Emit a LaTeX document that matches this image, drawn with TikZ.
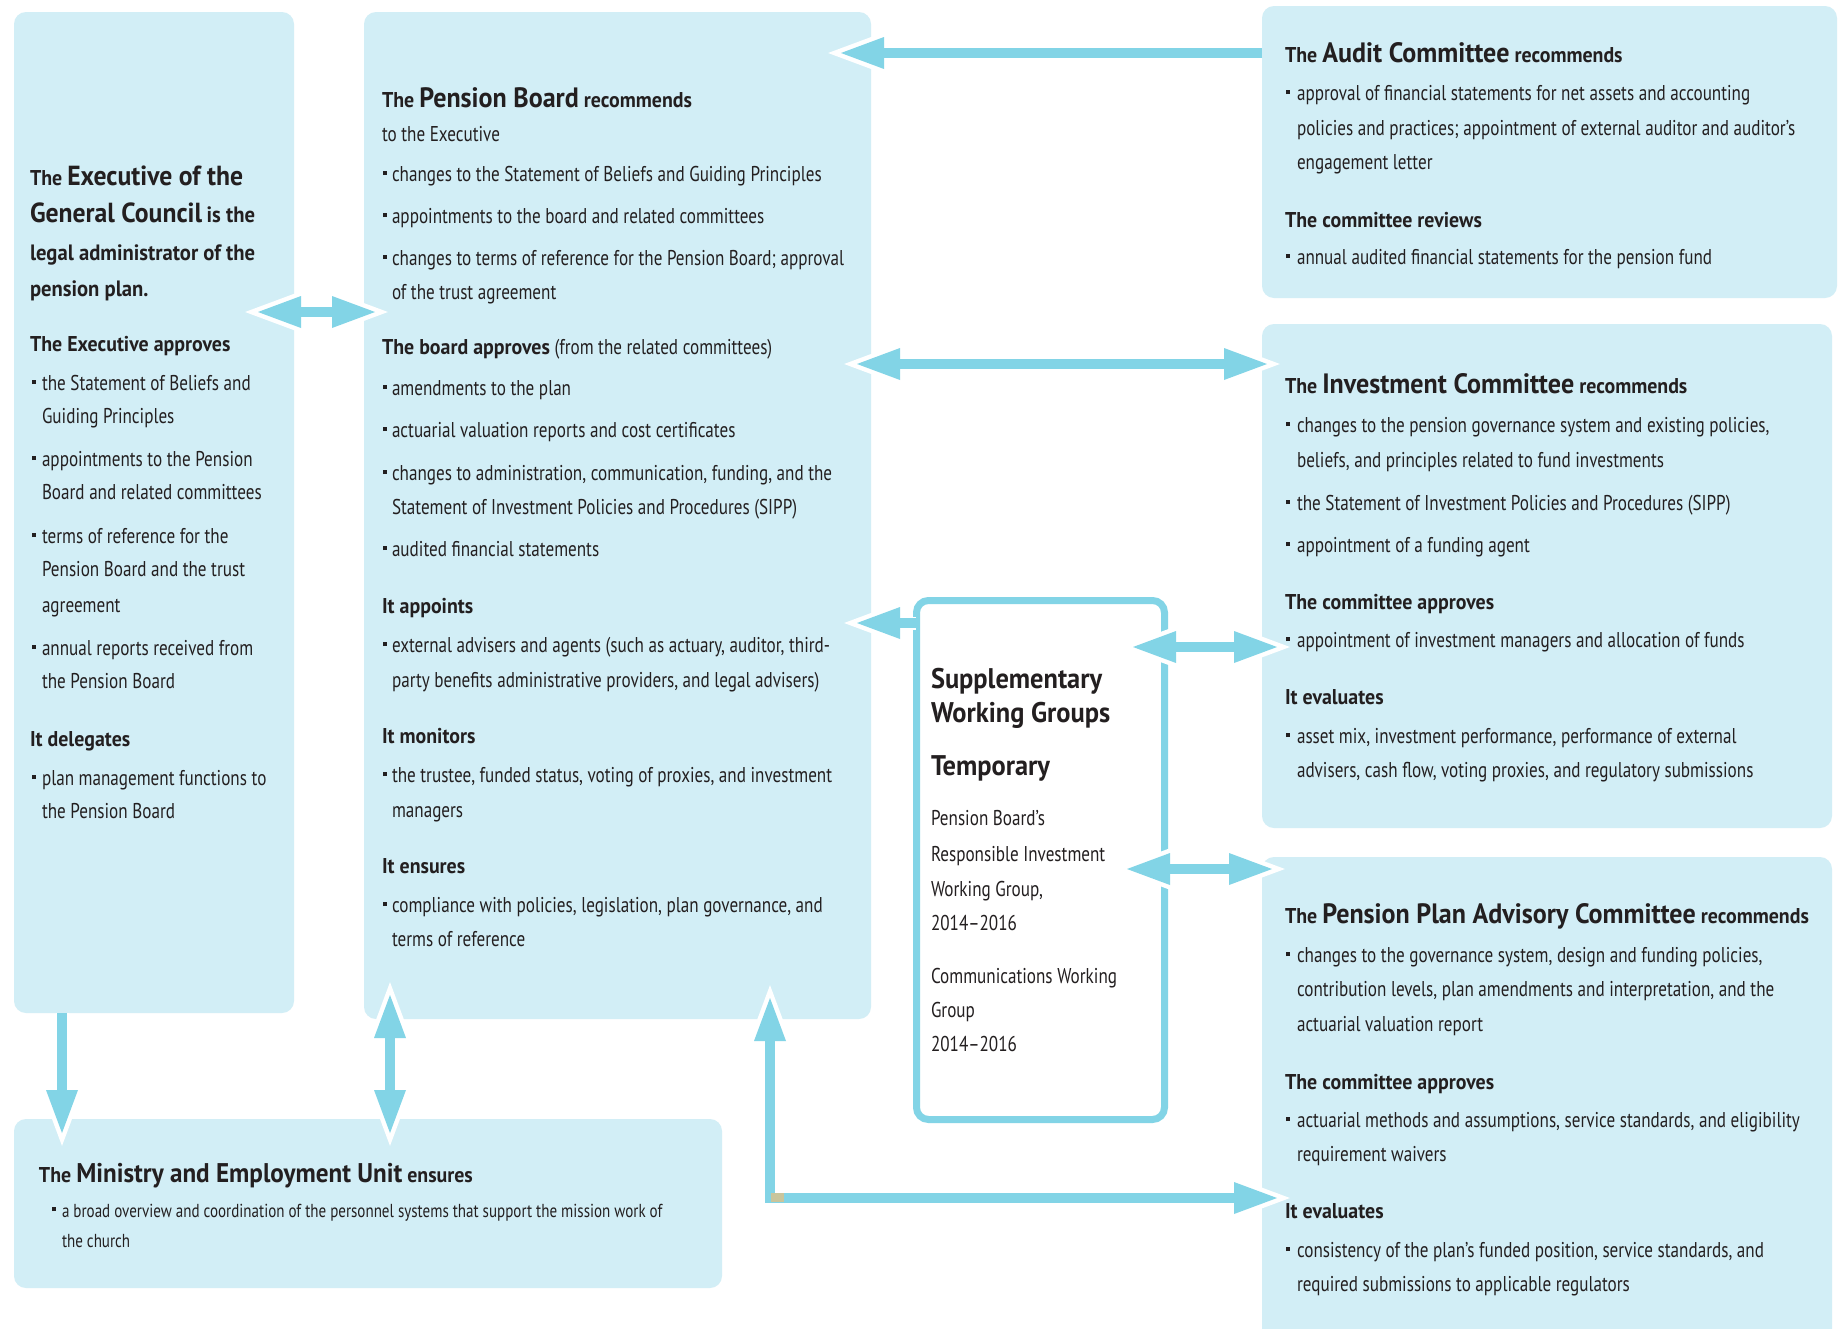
\documentclass[tikz,border=0pt]{standalone}
\usepackage{fontspec}
\setmainfont{PT Sans}[FakeStretch=0.80, BoldFeatures={FakeStretch=0.93}]
\usetikzlibrary{calc}
\definecolor{boxc}{HTML}{D2EEF6}
\definecolor{arrc}{HTML}{82D4E6}
\definecolor{ink}{HTML}{231F20}
\definecolor{tan}{HTML}{C9C59C}
\newcommand\bfsz{\fontsize{10.7}{13}\selectfont}
\newcommand\hd{\fontsize{14}{16}\selectfont\bfseries}
\newcommand\hdm{\fontsize{13.5}{16}\selectfont\bfseries}
\newcommand\hg{\fontsize{14.2}{17}\selectfont\bfseries}
\newcommand\hge{\fontsize{13.8}{17}\selectfont\bfseries}
\newcommand\hm{\fontsize{11.1}{14}\selectfont\bfseries}
\newcommand\bsq{\rule[0.27em]{0.2em}{0.2em}}
\newcounter{tn}
\newcommand\tx[3]{\stepcounter{tn}\node[txt] (t\arabic{tn}) at (#1,#2) {#3};}
\newcommand\bu[4]{\stepcounter{tn}\node[txt] (b\arabic{tn}) at (#1,#3) {\bsq};\tx{#2}{#3}{#4}}
\newcommand\headW[2]{\draw[white, line width=4.5pt, line join=miter, miter limit=20, shift={(#1)}, rotate=#2] (0,0) -- (-43,16) -- (-43,-16) -- cycle;}
\newcommand\headB[2]{\fill[arrc, shift={(#1)}, rotate=#2] (0,0) -- (-43,16) -- (-43,-16) -- cycle;}
\begin{document}
\begin{tikzpicture}[x=0.5pt,y=-0.5pt,
  box/.style={fill=boxc, draw=none, rounded corners=6pt, anchor=north west, inner sep=0pt, outer sep=0pt},
  txt/.style={anchor=mid west, inner sep=0pt, outer sep=0pt, text=ink, font=\bfsz},
  shaft/.style={draw=white, line width=0.75pt, double=arrc, double distance=5pt, line join=miter}]
\useasboundingbox (0,0) rectangle (1841,1328);
\fill[white] (0,0) rectangle (1841,1328);
% boxes
\node[box, minimum width=140pt, minimum height=500.5pt] (exec) at (14,12) {};
\node[box, minimum width=253.5pt, minimum height=503.5pt] (pb) at (364,12) {};
\node[box, minimum width=287.5pt, minimum height=146pt] (audit) at (1262,6) {};
\node[box, minimum width=285pt, minimum height=252pt] (inv) at (1262,324) {};
\node[box, minimum width=285pt, minimum height=245pt] (ppac) at (1262,857) {};
\node[box, minimum width=354pt, minimum height=84.5pt] (min) at (14,1119) {};
\node[draw=arrc, line width=3.5pt, fill=white, rounded corners=6pt, anchor=north west, inner sep=0pt, outer sep=0pt, minimum width=124pt, minimum height=259.5pt] (supp) at (916.5,600.5) {};
% arrow coordinates
\coordinate (a1s) at (1262,53);  \coordinate (a1t) at (841,53);
\coordinate (a2l) at (258,312);  \coordinate (a2r) at (375,312);
\coordinate (a3l) at (857,364);  \coordinate (a3r) at (1267,364);
\coordinate (a4s) at (916,623);  \coordinate (a4t) at (857,623);
\coordinate (a5l) at (1133,647); \coordinate (a5r) at (1277,647);
\coordinate (a6l) at (1127,869); \coordinate (a6r) at (1272,869);
\coordinate (a7s) at (62,1013);  \coordinate (a7t) at (62,1133);
\coordinate (a8t) at (390,995);  \coordinate (a8b) at (390,1133);
\coordinate (a9t) at (770,998);  \coordinate (a9c) at (770,1198); \coordinate (a9r) at (1277,1198);
% white outlines of heads
\headW{a1t}{180}
\headW{a2l}{180}\headW{a2r}{0}
\headW{a3l}{180}\headW{a3r}{0}
\headW{a4t}{180}
\headW{a5l}{180}\headW{a5r}{0}
\headW{a6l}{180}\headW{a6r}{0}
\headW{a7t}{-90}
\headW{a8t}{90}\headW{a8b}{-90}
\headW{a9t}{90}\headW{a9r}{0}
% shafts
\draw[shaft] (a1s) -- ($(a1t)+(38,0)$);
\draw[shaft] ($(a2l)+(38,0)$) -- ($(a2r)+(-38,0)$);
\draw[shaft] ($(a3l)+(38,0)$) -- ($(a3r)+(-38,0)$);
\draw[shaft] (a4s) -- ($(a4t)+(38,0)$);
\draw[shaft] ($(a5l)+(38,0)$) -- ($(a5r)+(-38,0)$);
\draw[shaft] ($(a6l)+(38,0)$) -- ($(a6r)+(-38,0)$);
\draw[shaft] (a7s) -- ($(a7t)+(0,-38)$);
\draw[shaft] ($(a8t)+(0,38)$) -- ($(a8b)+(0,-38)$);
\draw[shaft] ($(a9t)+(0,38)$) -- (a9c) -- ($(a9r)+(-38,0)$);
% heads
\headB{a1t}{180}
\headB{a2l}{180}\headB{a2r}{0}
\headB{a3l}{180}\headB{a3r}{0}
\headB{a4t}{180}
\headB{a5l}{180}\headB{a5r}{0}
\headB{a6l}{180}\headB{a6r}{0}
\headB{a7t}{-90}
\headB{a8t}{90}\headB{a8b}{-90}
\headB{a9t}{90}\headB{a9r}{0}
\fill[tan] (771,1193) rectangle (784,1202);
% Executive text
\tx{30}{180}{\bfseries The {\hge Executive of the}}
\tx{30}{217}{{\hge General Council} {\hm is the}}
\tx{30}{255}{\hm legal administrator of the}
\tx{30}{291}{\hm pension plan.}
\tx{30}{346}{\bfseries The Executive approves}
\bu{32}{42}{385}{the Statement of Beliefs and}
\tx{42}{418}{Guiding Principles}
\bu{32}{42}{461}{appointments to the Pension}
\tx{42}{494}{Board and related committees}
\bu{32}{42}{538}{terms of reference for the}
\tx{42}{571}{Pension Board and the trust}
\tx{42}{607}{agreement}
\bu{32}{42}{650}{annual reports received from}
\tx{42}{683}{the Pension Board}
\tx{30}{741}{\bfseries It delegates}
\bu{32}{42}{780}{plan management functions to}
\tx{42}{813}{the Pension Board}
% Pension Board text
\tx{382}{102}{\bfseries The {\hd Pension Board} recommends}
\tx{382}{136}{to the Executive}
\bu{383}{392}{176}{changes to the Statement of Beliefs and Guiding Principles}
\bu{383}{392}{218}{appointments to the board and related committees}
\bu{383}{392}{260}{changes to terms of reference for the Pension Board; approval}
\tx{392}{294}{of the trust agreement}
\tx{382}{349}{{\bfseries The board approves} (from the related committees)}
\bu{383}{392}{390}{amendments to the plan}
\bu{383}{392}{432}{actuarial valuation reports and cost certificates}
\bu{383}{392}{475}{changes to administration, communication, funding, and the}
\tx{392}{509}{Statement of Investment Policies and Procedures (SIPP)}
\bu{383}{392}{551}{audited financial statements}
\tx{382}{608}{\bfseries It appoints}
\bu{383}{392}{647}{external advisers and agents (such as actuary, auditor, third-}
\tx{392}{682}{party benefits administrative providers, and legal advisers)}
\tx{382}{738}{\bfseries It monitors}
\bu{383}{392}{777}{the trustee, funded status, voting of proxies, and investment}
\tx{392}{812}{managers}
\tx{382}{868}{\bfseries It ensures}
\bu{383}{392}{907}{compliance with policies, legislation, plan governance, and}
\tx{392}{941}{terms of reference}
% Audit text
\tx{1285}{57}{\bfseries The {\hd Audit Committee} recommends}
\bu{1286}{1297}{95}{approval of financial statements for net assets and accounting}
\tx{1297}{130}{policies and practices; appointment of external auditor and auditor’s}
\tx{1297}{164}{engagement letter}
\tx{1285}{222}{\bfseries The committee reviews}
\bu{1286}{1297}{259}{annual audited financial statements for the pension fund}
% Investment text
\tx{1285}{388}{\bfseries The {\hd Investment Committee} recommends}
\bu{1286}{1297}{427}{changes to the pension governance system and existing policies,}
\tx{1297}{462}{beliefs, and principles related to fund investments}
\bu{1286}{1297}{505}{the Statement of Investment Policies and Procedures (SIPP)}
\bu{1286}{1297}{547}{appointment of a funding agent}
\tx{1285}{604}{\bfseries The committee approves}
\bu{1286}{1297}{642}{appointment of investment managers and allocation of funds}
\tx{1285}{699}{\bfseries It evaluates}
\bu{1286}{1297}{738}{asset mix, investment performance, performance of external}
\tx{1297}{772}{advisers, cash flow, voting proxies, and regulatory submissions}
% PPAC text
\tx{1285}{918}{\bfseries The {\hd Pension Plan Advisory Committee} recommends}
\bu{1286}{1297}{957}{changes to the governance system, design and funding policies,}
\tx{1297}{991}{contribution levels, plan amendments and interpretation, and the}
\tx{1297}{1026}{actuarial valuation report}
\tx{1285}{1084}{\bfseries The committee approves}
\bu{1286}{1297}{1122}{actuarial methods and assumptions, service standards, and eligibility}
\tx{1297}{1156}{requirement waivers}
\tx{1285}{1213}{\bfseries It evaluates}
\bu{1286}{1297}{1252}{consistency of the plan’s funded position, service standards, and}
\tx{1297}{1286}{required submissions to applicable regulators}
% Ministry text
\tx{39}{1177}{\bfseries The {\hdm Ministry and Employment Unit} ensures}
\bu{52}{62}{1212}{\fontsize{9.4}{11}\selectfont a broad overview and coordination of the personnel systems that support the mission work of}
\tx{62}{1242}{\fontsize{9.4}{11}\selectfont the church}
% Supplementary text
\tx{931}{683}{\hg Supplementary}
\tx{931}{717}{\hg Working Groups}
\tx{931}{770}{\hg Temporary}
\tx{931}{820}{Pension Board’s}
\tx{931}{856}{Responsible Investment}
\tx{931}{891}{Working Group,}
\tx{931}{925}{2014–2016}
\tx{931}{978}{Communications Working}
\tx{931}{1012}{Group}
\tx{931}{1046}{2014–2016}
\end{tikzpicture}
\end{document}
